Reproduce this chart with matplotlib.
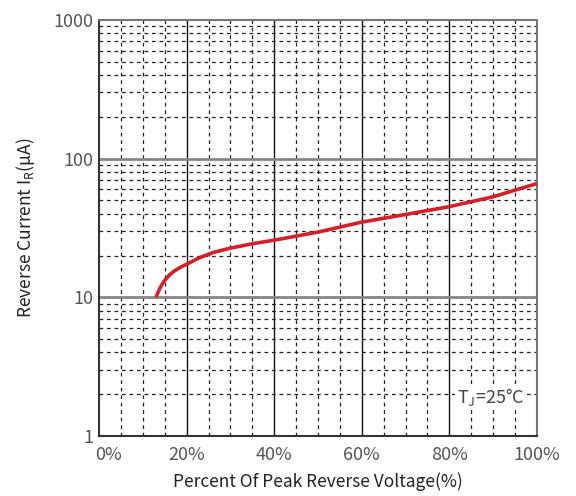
import matplotlib
matplotlib.use("Agg")
import matplotlib.pyplot as plt
import numpy as np
from matplotlib.ticker import FixedLocator, NullFormatter
from matplotlib.transforms import ScaledTranslation

plt.rcParams['font.family'] = ['Noto Sans CJK SC', 'DejaVu Sans']

pct = [13, 13.5, 14, 14.8, 16, 17.1, 18.5, 20, 22.8, 26, 29.7, 35, 40, 50, 60, 70, 80, 90, 100]
current = [10.0, 10.9, 11.8, 13.0, 14.4, 15.4, 16.4, 17.3, 19.2, 21.0, 22.5, 24.3, 25.8, 29.5, 34.8, 39.5, 45.0, 53.0, 66.0]

xticks = [0, 20, 40, 60, 80, 100]
xticklabels = ['0%', '20%', '40%', '60%', '80%', '100%']
yticks = [1, 10, 100, 1000]
yticklabels = ['1', '10', '100', '1000']

fig = plt.figure(figsize=(5.76, 4.96), dpi=100)
ax = fig.add_axes([0.172, 0.121, 0.76, 0.839])
ax.set_yscale('log')
ax.set_xlim(0, 100)
ax.set_ylim(1, 1000)

# minor grid
for xv in np.arange(5, 100, 5):
    if xv % 20 != 0:
        ax.axvline(xv, color='#222222', lw=0.9, ls=(0, (3, 3)), zorder=1)
for dec in [1, 10, 100]:
    for m in range(2, 10):
        ax.axhline(dec * m, color='#222222', lw=0.9, ls=(0, (3, 3)), zorder=1)
# major grid
for xv in [20, 40, 60, 80]:
    ax.axvline(xv, color='#111111', lw=1.0, zorder=2)
for yv in [10, 100]:
    ax.axhline(yv, color='#8a8585', lw=2.0, zorder=2)

ax.plot(pct, current, color='#d42027', lw=2.6, zorder=5, solid_capstyle='butt',
        solid_joinstyle='round')

ax.set_xticks(xticks)
ax.set_xticklabels(xticklabels)
ax.yaxis.set_major_locator(FixedLocator(yticks))
ax.set_yticklabels(yticklabels)
ax.yaxis.set_minor_formatter(NullFormatter())
ax.tick_params(axis='both', which='both', length=0, labelsize=13, labelcolor='#555555')
ax.tick_params(axis='x', pad=7)
ax.tick_params(axis='y', pad=4)
for lab in ax.get_xticklabels()[:1]:
    lab.set_transform(lab.get_transform() + ScaledTranslation(9 / 100, 0, fig.dpi_scale_trans))

for s in ax.spines.values():
    s.set_color('#777777')
    s.set_linewidth(1.5)
ax.spines['left'].set_color('#333333')
ax.spines['bottom'].set_color('#333333')

ax.set_xlabel('Percent Of Peak Reverse Voltage(%)', fontsize=12.5, color='#222222', labelpad=6)
ax.set_ylabel(r'Reverse Current I$_\mathregular{R}$(μA)', fontsize=12.5, color='#222222', labelpad=12)

ax.text(89.5, 1.9, r'T$_\mathregular{J}$=25°C', fontsize=13, color='#444444', ha='center', va='center',
        bbox=dict(facecolor='white', edgecolor='none', pad=1.5), zorder=6)

fig.savefig('out.png', dpi=100)
